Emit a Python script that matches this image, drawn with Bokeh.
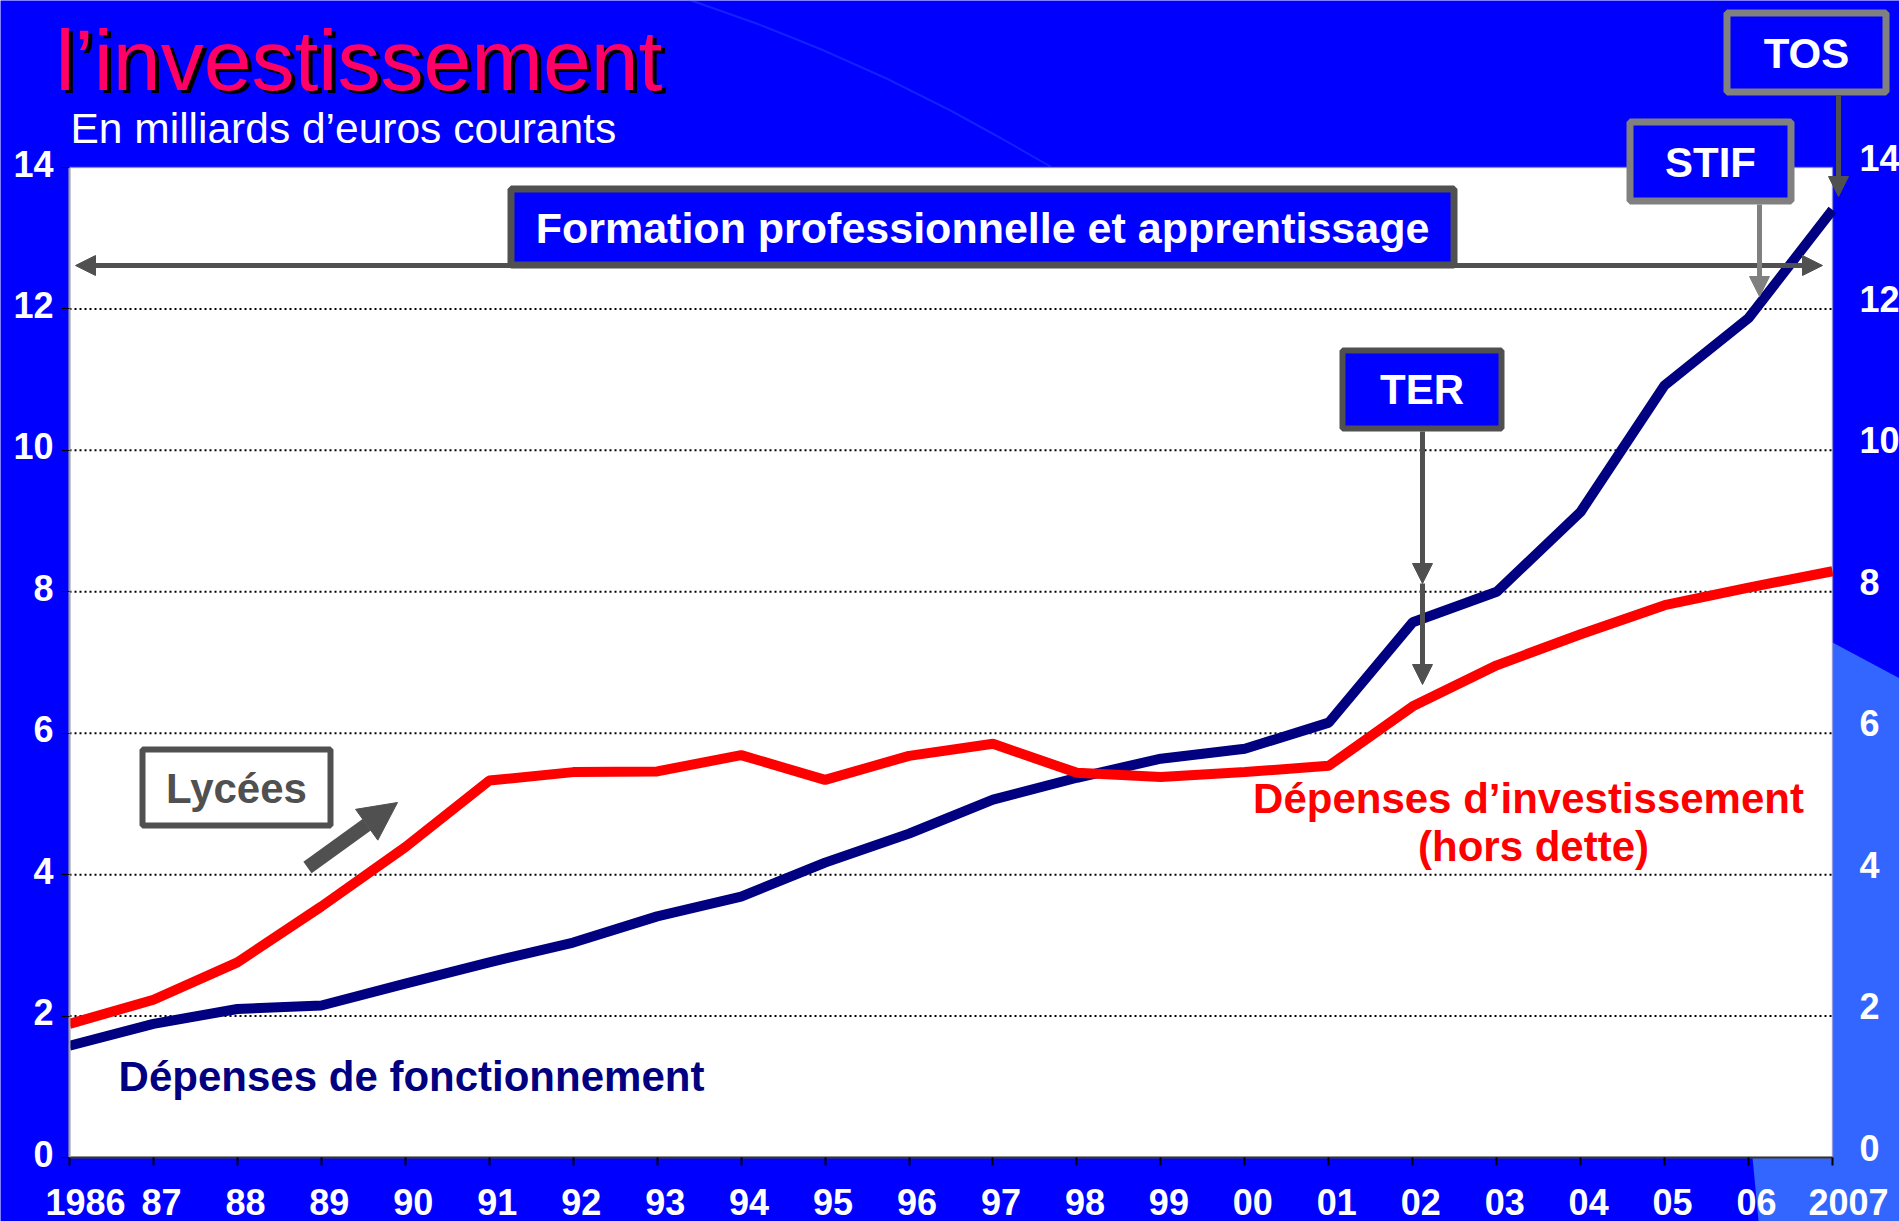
from bokeh.plotting import figure
from bokeh.models import (Range1d, LinearAxis, FixedTicker, Label, BoxAnnotation,
                          Arrow, NormalHead, PolyAnnotation)
from bokeh.embed import file_html
from bokeh.resources import INLINE

# ---------------- data ----------------
years = [1986, 1987, 1988, 1989, 1990, 1991, 1992, 1993, 1994, 1995, 1996,
         1997, 1998, 1999, 2000, 2001, 2002, 2003, 2004, 2005, 2006, 2007]
year_labels = ["1986", "87", "88", "89", "90", "91", "92", "93", "94", "95", "96",
               "97", "98", "99", "00", "01", "02", "03", "04", "05", "06", "2007"]
fonctionnement = [1.58, 1.89, 2.10, 2.15, 2.46, 2.76, 3.04, 3.41, 3.69, 4.17, 4.58,
                  5.06, 5.37, 5.64, 5.78, 6.15, 7.57, 8.00, 9.13, 10.92, 11.87, 13.40]
investissement = [1.89, 2.23, 2.76, 3.55, 4.39, 5.33, 5.45, 5.46, 5.69, 5.34, 5.68,
                  5.85, 5.44, 5.38, 5.45, 5.54, 6.38, 6.96, 7.40, 7.81, 8.06, 8.29]
y_ticks = [0, 2, 4, 6, 8, 10, 12, 14]
grid_ticks = [2, 4, 6, 8, 10, 12]

title_text = "l\u2019investissement"
subtitle_text = "En milliards d\u2019euros courants"

# ---------------- geometry (page pixels) ----------------
W, H = 1899, 1221
FL, FR, FT, FB = 69, 1832, 167, 1157          # plot area in page pixels
X0, X1 = years[0], years[-1]
Y0, Y1 = y_ticks[0], y_ticks[-1]
FONT = "Liberation Sans"
BLUE = "#0000FF"
DARK = "#505050"
MID = "#808080"


def dx(px):
    return X0 + (px - FL) * (X1 - X0) / (FR - FL)


def dy(py):
    return Y0 + (FB - py) * (Y1 - Y0) / (FB - FT)


p = figure(width=W, height=H, x_range=Range1d(dx(0), dx(W)), y_range=Range1d(dy(H), dy(0)),
           output_backend="svg", toolbar_location=None, title=None,
           x_axis_location=None, y_axis_location=None,
           min_border=0, min_border_left=0, min_border_right=0,
           min_border_top=0, min_border_bottom=0)
p.background_fill_color = BLUE
p.border_fill_color = BLUE
p.outline_line_color = None
p.grid.visible = False

xs_shift = 8 * (X1 - X0) / (FR - FL)
xe_shift = 16 * (X1 - X0) / (FR - FL)
yl_shift = 4 * (Y1 - Y0) / (FB - FT)
yr_shift = 10 * (Y1 - Y0) / (FB - FT)
p.extra_x_ranges = {"xl": Range1d(dx(0) - xs_shift, dx(W) - xs_shift),
                    "xe": Range1d(dx(0) - xe_shift, dx(W) - xe_shift)}
p.extra_y_ranges = {"yl": Range1d(dy(H) - yl_shift, dy(0) - yl_shift),
                    "yr": Range1d(dy(H) - yr_shift, dy(0) - yr_shift)}

# ---------------- background decorations ----------------
light = PolyAnnotation(xs=[dx(1832), dx(1905), dx(1905), dx(1759), dx(1752), dx(1832)],
                       ys=[dy(642), dy(681), dy(1230), dy(1230), dy(1157), dy(1157)],
                       fill_color="#3366FF", fill_alpha=1, line_alpha=0, level="underlay")
p.add_layout(light)
arc_x = [688, 756, 821, 886, 950, 1001, 1050]
arc_y = [-1, 23, 49, 78, 110, 138, 166]
arc = PolyAnnotation(xs=[dx(v) for v in arc_x + arc_x[::-1]],
                     ys=[dy(v) for v in arc_y + arc_y[::-1]],
                     fill_alpha=0, line_color="#3A6CFF", line_width=2, level="underlay")
p.add_layout(arc)

# plot area
p.add_layout(BoxAnnotation(left=X0, right=X1, bottom=Y0, top=Y1, fill_color="white",
                           fill_alpha=1, line_color="#A0A0A0", line_width=2,
                           level="underlay"))

# grid lines
p.segment(x0=[X0] * len(grid_ticks), y0=grid_ticks, x1=[X1] * len(grid_ticks), y1=grid_ticks,
          line_color="black", line_width=2, line_dash="2 3")

# data lines
p.line(years, fonctionnement, line_color="#000080", line_width=10)
p.line(years, investissement, line_color="#FF0000", line_width=10)


def style_labels(ax):
    ax.major_label_text_font = FONT
    ax.major_label_text_font_size = "36px"
    ax.major_label_text_font_style = "bold"
    ax.major_label_text_color = "white"
    ax.minor_tick_line_color = None


# bottom axis: ticks
xt = LinearAxis(fixed_location=Y0, bounds=(X0, X1),
                ticker=FixedTicker(ticks=years, minor_ticks=[]))
xt.major_tick_out = 8
xt.major_tick_in = 0
xt.major_tick_line_color = "black"
xt.major_tick_line_width = 2
xt.axis_line_color = "#333333"
xt.axis_line_width = 2
xt.major_label_text_alpha = 0
xt.minor_tick_line_color = None
p.add_layout(xt, "below")

# bottom axis: labels (two-digit years, then the two four-digit end years)
label_map = {y: l for y, l in zip(years, year_labels)}
for rng, ticks in (("xl", years[1:-1]), ("xe", [years[0], years[-1]])):
    xl = LinearAxis(x_range_name=rng, fixed_location=Y0, bounds=(X0, X1),
                    ticker=FixedTicker(ticks=ticks, minor_ticks=[]))
    xl.major_label_overrides = {t: label_map[t] for t in ticks}
    xl.axis_line_color = None
    xl.major_tick_line_color = None
    xl.major_tick_out = 8
    xl.major_label_standoff = 23
    style_labels(xl)
    p.add_layout(xl, "below")

# left axis: line and ticks
yt = LinearAxis(fixed_location=X0, bounds=(Y0, Y1),
                ticker=FixedTicker(ticks=y_ticks, minor_ticks=[]))
yt.major_tick_out = 8
yt.major_tick_in = 0
yt.major_tick_line_color = "black"
yt.axis_line_color = "#A0A0A0"
yt.axis_line_width = 2
yt.major_label_text_alpha = 0
yt.minor_tick_line_color = None
p.add_layout(yt, "left")

# left axis: labels
ya = LinearAxis(y_range_name="yl", fixed_location=X0, bounds=(Y0, Y1),
                ticker=FixedTicker(ticks=y_ticks, minor_ticks=[]))
ya.major_tick_out = 8
ya.major_tick_line_color = None
ya.axis_line_color = None
ya.major_label_standoff = 8
style_labels(ya)
p.add_layout(ya, "left")

# right axis
ra = LinearAxis(y_range_name="yr", fixed_location=X1, bounds=(Y0, Y1),
                ticker=FixedTicker(ticks=y_ticks, minor_ticks=[]))
ra.major_tick_out = 0
ra.major_tick_in = 0
ra.major_tick_line_color = None
ra.axis_line_color = None
ra.major_label_standoff = 27
style_labels(ra)
p.add_layout(ra, "right")


def box(x0, y0, x1, y1, fill, line, lw):
    p.add_layout(BoxAnnotation(left=dx(x0 + lw / 2), right=dx(x1 - lw / 2),
                               top=dy(y0 + lw / 2), bottom=dy(y1 - lw / 2),
                               fill_color=fill, fill_alpha=1, line_color=line,
                               line_width=lw, line_alpha=1))


def lab(text, x, y, size, color, bold=True, align="center"):
    corr = 0.36 * size
    p.add_layout(Label(x=dx(x), y=dy(y - corr), text=text, text_font=FONT,
                       text_font_size=f"{size}px",
                       text_font_style="bold" if bold else "normal",
                       text_color=color, text_align=align, text_baseline="alphabetic"))


def arrow(x0, y0, x1, y1, color, lw, size, both=False):
    def head():
        return NormalHead(size=size, fill_color=color, line_color=color, line_width=1)
    p.add_layout(Arrow(x_start=dx(x0), y_start=dy(y0), x_end=dx(x1), y_end=dy(y1),
                       line_color=color, line_width=lw, end=head(),
                       start=head() if both else None))


# double arrow for "Formation professionnelle"
arrow(75, 265, 1822, 265, DARK, 5, 20, both=True)
box(507, 185, 1457, 268, BLUE, DARK, 7)
lab("Formation professionnelle et apprentissage", 982, 243, 43, "white")

# TER
box(1339, 347, 1504, 431, BLUE, DARK, 6)
lab("TER", 1421.5, 404, 42, "white")
arrow(1422, 431, 1422, 583, DARK, 5, 20)
arrow(1422, 583, 1422, 684, DARK, 5, 20)

# STIF
box(1626, 118, 1794, 204, BLUE, MID, 7)
lab("STIF", 1710, 177, 42, "white")
arrow(1759, 204, 1759, 296, MID, 5, 20)

# TOS
box(1723, 9, 1889, 95, BLUE, MID, 7)
lab("TOS", 1806, 68, 42, "white")
arrow(1838, 95, 1838, 196, DARK, 5, 20)

# Lycées
box(139, 746, 333, 828, "white", DARK, 6)
lab("Lyc\u00e9es", 236, 803, 42, DARK)
arrow(307, 867, 397, 802, DARK, 14, 38)

# series labels
lab("D\u00e9penses de fonctionnement", 411, 1091, 42, "#000080")
lab("D\u00e9penses d\u2019investissement", 1528, 813, 42, "#FF0000")
lab("(hors dette)", 1533, 861, 42, "#FF0000")

# title
lab(title_text, 59, 93, 86, "black", bold=False, align="left")
lab(title_text, 55, 90, 86, "#FF0066", bold=False, align="left")
lab(subtitle_text, 70, 143, 42.5, "white", bold=False, align="left")

open("out.html", "w").write(file_html(p, INLINE))
